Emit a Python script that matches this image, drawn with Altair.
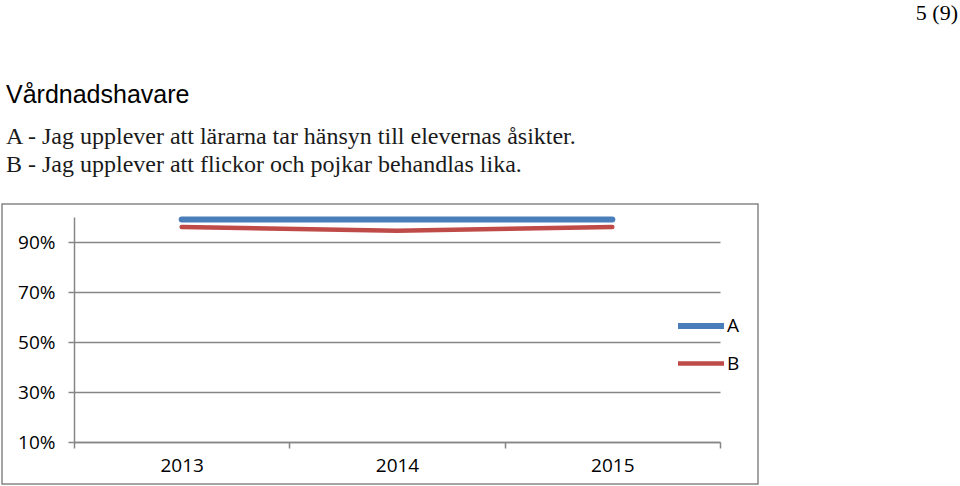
import altair as alt
import pandas as pd

years = ["2013", "2014", "2015"]
series_a = [0.99, 0.99, 0.99]
series_b = [0.96, 0.945, 0.96]
series_names = ["A", "B"]
series_colors = ["#4A7EBB", "#BE4B48"]
series_widths = [6, 4.5]
y_ticks = [0.1, 0.3, 0.5, 0.7, 0.9]
heading = ["Vårdnadshavare"]
question_lines = [
    "A - Jag upplever att lärarna tar hänsyn till elevernas åsikter.",
    "B - Jag upplever att flickor och pojkar behandlas lika.",
]
page_label = ["5 (9)"]

rows = []
for name, vals in zip(series_names, [series_a, series_b]):
    for yr, v in zip(years, vals):
        rows.append({"year": yr, "value": v, "series": name})
df = pd.DataFrame(rows)

GRAY = "#868686"
SANS = "Open Sans"

legend_cfg = dict(
    title=None, orient="none", legendX=601, legendY=83,
    symbolType="stroke", symbolSize=2116,
    labelFont=SANS, labelFontSize=19, labelColor="#000000",
    labelOffset=0, rowPadding=-8, padding=0,
)

lines = alt.Chart(df).mark_line(strokeCap="round", strokeJoin="round").encode(
    x=alt.X(
        "year:O",
        scale=alt.Scale(type="band", paddingInner=0, paddingOuter=0),
        bandPosition=0.5,
        axis=alt.Axis(
            title=None, labelAngle=0, tickBand="extent", grid=False,
            domainColor=GRAY, domainWidth=1.5, tickColor=GRAY, tickWidth=1.5,
            tickSize=6, labelPadding=8, labelFont=SANS, labelFontSize=19,
            labelColor="#000000",
        ),
    ),
    y=alt.Y(
        "value:Q",
        scale=alt.Scale(domain=[0.1, 1.0], nice=False, zero=False),
        axis=alt.Axis(
            title=None, values=y_ticks, format=".0%", grid=True,
            gridColor=GRAY, gridWidth=1.5, domainColor=GRAY, domainWidth=1.5,
            tickColor=GRAY, tickWidth=1.5, tickSize=6, labelPadding=13,
            labelFont=SANS, labelFontSize=19, labelColor="#000000",
        ),
    ),
    color=alt.Color(
        "series:N",
        scale=alt.Scale(domain=series_names, range=series_colors),
        legend=alt.Legend(**legend_cfg),
    ),
    strokeWidth=alt.StrokeWidth(
        "series:N",
        scale=alt.Scale(domain=series_names, range=series_widths),
        legend=alt.Legend(**legend_cfg),
    ),
)

frame = alt.Chart(pd.DataFrame({"k": [0]})).mark_rect(
    fillOpacity=0, stroke=GRAY, strokeWidth=1.5
).encode(
    x=alt.value(-72), x2=alt.value(684), y=alt.value(-13), y2=alt.value(267)
)

head = alt.Chart(pd.DataFrame({"t": heading})).mark_text(
    align="left", baseline="alphabetic", font="Liberation Sans", fontSize=25,
    color="#000000",
).encode(text="t:N", x=alt.value(-68), y=alt.value(-114))

q1 = alt.Chart(pd.DataFrame({"t": [question_lines[0]]})).mark_text(
    align="left", baseline="alphabetic", font="Liberation Serif", fontSize=24,
    color="#1a1a1a",
).encode(text="t:N", x=alt.value(-68), y=alt.value(-73))
q2 = alt.Chart(pd.DataFrame({"t": [question_lines[1]]})).mark_text(
    align="left", baseline="alphabetic", font="Liberation Serif", fontSize=24,
    color="#1a1a1a",
).encode(text="t:N", x=alt.value(-68), y=alt.value(-45))

page = alt.Chart(pd.DataFrame({"t": page_label})).mark_text(
    align="right", baseline="alphabetic", font="Liberation Serif", fontSize=22,
    color="#000000",
).encode(text="t:N", x=alt.value(884), y=alt.value(-197))

chart = alt.layer(frame, lines, head, q1, q2, page).properties(
    width=646, height=225,
    autosize=alt.AutoSizeParams(type="none"),
    padding={"left": 74, "top": 217, "right": 240, "bottom": 44},
    background="#ffffff",
).configure_view(strokeWidth=0)

chart.save("out.html", embed_options={"renderer": "svg", "actions": False})
